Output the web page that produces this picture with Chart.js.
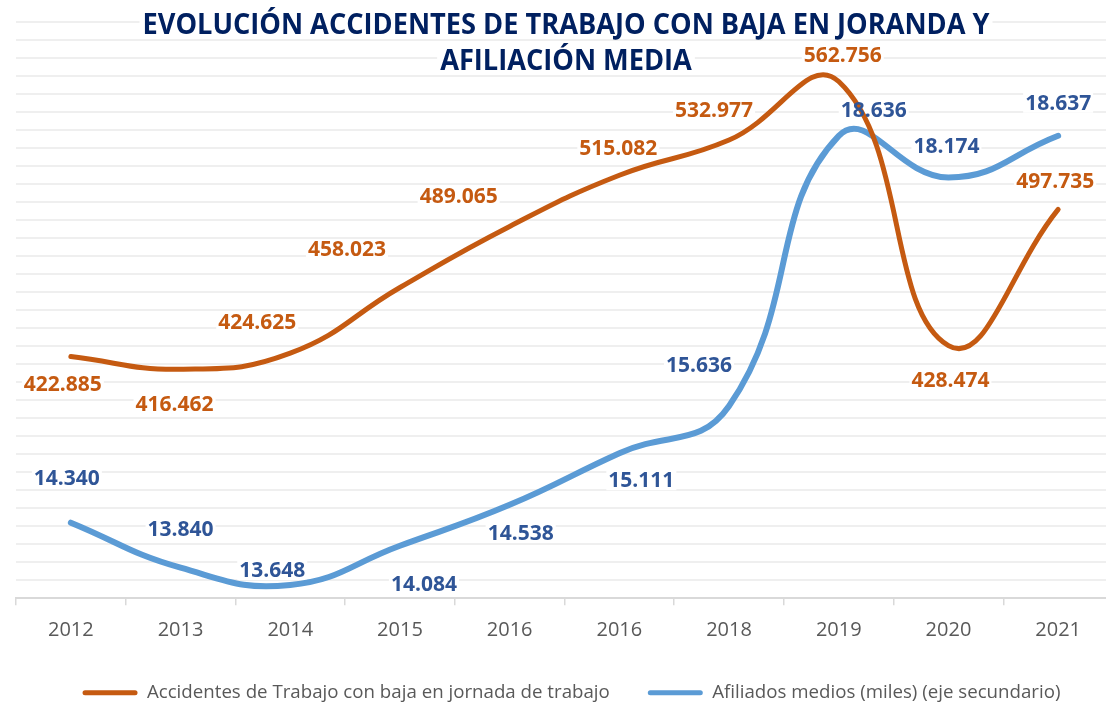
<!DOCTYPE html>
<html lang="es">
<head>
<meta charset="utf-8">
<title>Evolución accidentes de trabajo y afiliación media</title>
<script src="https://cdn.jsdelivr.net/npm/chart.js@4/dist/chart.umd.min.js"></script>
<style>
  html, body { margin: 0; padding: 0; background: #fff; overflow: hidden; }
  #wrap { width: 1106px; height: 706px; overflow: hidden; }
  canvas { display: block; }
</style>
</head>
<body>
<div id="wrap"><canvas id="grafico" width="1113" height="706"></canvas></div>
<script>
/* global Chart */
// Datos
const anios = ['2012', '2013', '2014', '2015', '2016', '2016', '2018', '2019', '2020', '2021'];
const accidentes = [422885, 416462, 424625, 458023, 489065, 515082, 532977, 562756, 428474, 497735];
const afiliados = [14340, 13840, 13648, 14084, 14538, 15111, 15636, 18636, 18174, 18637];

const tituloLineas = ['EVOLUCIÓN ACCIDENTES DE TRABAJO CON BAJA EN JORANDA Y', 'AFILIACIÓN MEDIA'];
const nombreAcc = 'Accidentes de Trabajo con baja en jornada de trabajo';
const nombreAfi = 'Afiliados medios (miles) (eje secundario)';

// desplazamiento de cada etiqueta respecto a su punto (px)
const despAcc = [[-8, 27], [-6, 35], [-33, -31], [-53, -38], [-51, -30], [-1, -27], [-15, -30], [4, -26], [2, 34], [-3, -28]];
const despAfi = [[-4, -45], [0, -39], [-18, -15], [24, 38], [11, 28], [22, 27], [-30, -41], [35, -26], [-2, -31], [0, -33]];

const NARANJA = '#C55A11';
const AZUL = '#5B9BD5';
const AZUL_TXT = '#2F5597';
const FUENTE = '"Open Sans", "Noto Sans", sans-serif';

const fmt = v => String(v).replace(/\B(?=(\d{3})+(?!\d))/g, '.');

function posEtiquetas(chart) {
  const out = [];
  chart.data.datasets.forEach((ds, i) => {
    const meta = chart.getDatasetMeta(i);
    meta.data.forEach((pt, j) => {
      const d = ds._desp[j];
      out.push({ x: pt.x + d[0], y: pt.y + d[1], txt: fmt(ds.data[j]), color: ds._txtColor });
    });
  });
  return out;
}

const etiquetas = {
  id: 'etiquetas',
  beforeDatasetsDraw(chart) {
    // fondo blanco de etiquetas y titulo (tapa la cuadricula)
    const ctx = chart.ctx;
    ctx.save();
    ctx.fillStyle = '#fff';
    ctx.font = 'bold 21px ' + FUENTE;
    posEtiquetas(chart).forEach(e => {
      const w = ctx.measureText(e.txt).width;
      ctx.fillRect(e.x - w / 2 - 2, e.y - 10, w + 4, 20);
    });
    ctx.font = 'bold 28px ' + FUENTE;
    const sx = Math.min(1, 847 / ctx.measureText(tituloLineas[0]).width);
    tituloLineas.forEach((t, k) => {
      const w = ctx.measureText(t).width * sx;
      ctx.fillRect(566 - w / 2 - 3, 25 + k * 36 - 13, w + 6, 26);
    });
    ctx.restore();
  },
  afterDraw(chart) {
    const ctx = chart.ctx;
    ctx.save();
    ctx.textAlign = 'center';
    ctx.textBaseline = 'middle';
    ctx.font = 'bold 21px ' + FUENTE;
    posEtiquetas(chart).forEach(e => {
      ctx.fillStyle = e.color;
      ctx.fillText(e.txt, e.x, e.y + 1);
    });
    // titulo
    ctx.font = 'bold 28px ' + FUENTE;
    ctx.fillStyle = '#002060';
    const sx = Math.min(1, 847 / ctx.measureText(tituloLineas[0]).width);
    tituloLineas.forEach((t, k) => {
      ctx.save();
      ctx.translate(566, 26 + k * 36);
      ctx.scale(sx, 1);
      ctx.fillText(t, 0, 0);
      ctx.restore();
    });
    ctx.restore();
  },
  afterLayout(chart) {
    // la leyenda original esta algo desplazada a la derecha y abajo
    chart.legend.left += 7;
    chart.legend.right += 7;
    chart.legend.top += 6;
    chart.legend.bottom += 6;
  }
};

new Chart(document.getElementById('grafico'), {
  type: 'line',
  data: {
    labels: anios,
    datasets: [
      {
        label: nombreAcc,
        data: accidentes,
        yAxisID: 'y',
        borderColor: NARANJA,
        backgroundColor: NARANJA,
        borderWidth: 5,
        borderCapStyle: 'round',
        pointRadius: 0,
        tension: 0.45,
        fill: false,
        _desp: despAcc,
        _txtColor: NARANJA,
      },
      {
        label: nombreAfi,
        data: afiliados,
        yAxisID: 'y1',
        borderColor: AZUL,
        backgroundColor: AZUL,
        borderWidth: 6,
        borderCapStyle: 'round',
        pointRadius: 0,
        tension: 0.45,
        fill: false,
        _desp: despAfi,
        _txtColor: AZUL_TXT,
      }
    ]
  },
  options: {
    responsive: false,
    animation: false,
    layout: { padding: { top: 22, left: 16, right: 0, bottom: 0 } },
    plugins: {
      title: { display: false },
      tooltip: { enabled: false },
      legend: {
        position: 'bottom',
        labels: {
          boxWidth: 55,
          boxHeight: 5,
          padding: 38,
          color: '#595959',
          font: { family: FUENTE, size: 18.7 },
          useBorderRadius: true,
          borderRadius: 2.5,
          generateLabels: chart => chart.data.datasets.map((ds, i) => ({
            text: ds.label,
            fillStyle: ds.borderColor,
            strokeStyle: ds.borderColor,
            lineWidth: 0,
            borderRadius: 2.5,
            fontColor: '#595959',
            datasetIndex: i,
            hidden: false,
          }))
        }
      }
    },
    scales: {
      x: {
        offset: true,
        grid: { offset: true, drawOnChartArea: false, tickLength: 7, color: '#d9d9d9', lineWidth: 1.5 },
        border: { color: '#d9d9d9', width: 2 },
        ticks: { color: '#595959', padding: 13, font: { family: FUENTE, size: 20 } },
        afterFit: scale => { scale.height = 41; }
      },
      yg: {
        position: 'left',
        min: 0,
        max: 32,
        ticks: { display: false, stepSize: 1 },
        grid: { color: '#efefef', lineWidth: 2, drawTicks: false },
        border: { display: false }
      },
      y: { display: false, min: 300000, max: 593000 },
      y1: { display: false, position: 'right', min: 13500, max: 19900 }
    }
  },
  plugins: [etiquetas]
});
</script>
</body>
</html>
